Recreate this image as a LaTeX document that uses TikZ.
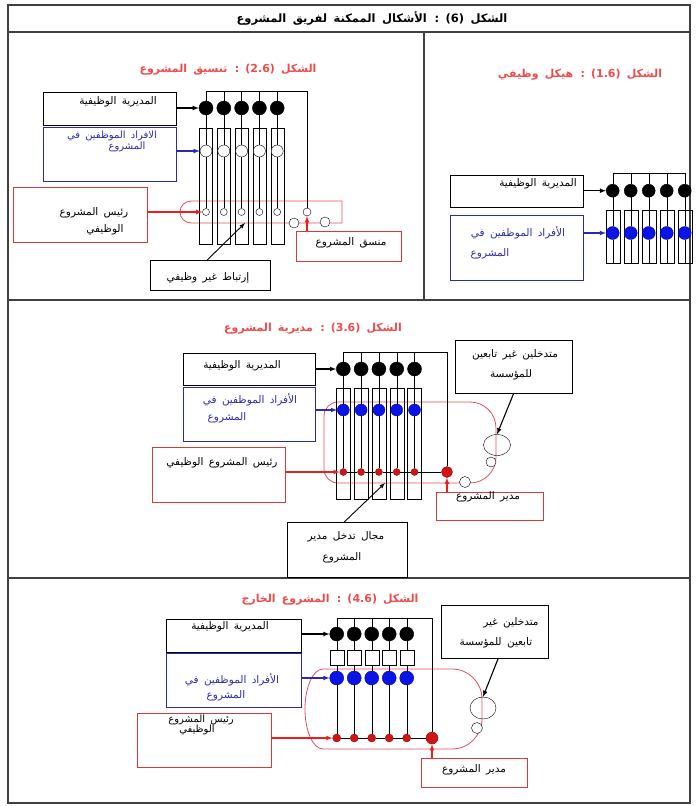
\documentclass[tikz,border=0pt]{standalone}
\usepackage{fontspec}
\usepackage{xcolor}
\usepackage{tikz}
\usetikzlibrary{shapes.geometric}
\TeXXeTstate=1
\newfontfamily\arabicfont[Script=Arabic, WordSpace=1.6]{DejaVu Sans}
\newcommand{\artxt}[1]{\beginR #1\endR}
\definecolor{ttlred}{HTML}{EE4B4B}
\definecolor{boxred}{HTML}{D83A3A}
\definecolor{loopred}{HTML}{E0505C}
\definecolor{arrred}{HTML}{EE1C1C}
\definecolor{boxblue}{HTML}{2B2BB0}
\definecolor{dotblue}{HTML}{0A14E6}
\definecolor{dotred}{HTML}{D41414}
\definecolor{frmgray}{HTML}{404040}

\begin{document}
\begin{tikzpicture}[x=1pt, y=-1pt,
		frm/.style={draw=frmgray, line width=1.2pt},
		ttl/.style={font=\arabicfont\bfseries\fontsize{11}{13}\selectfont, text=ttlred, inner sep=0pt},
		txt/.style={font=\arabicfont\fontsize{10.5}{12}\selectfont, inner sep=0pt},
		btxt/.style={txt, text=boxblue},
		blkbox/.style={draw=black, anchor=north west, inner sep=0pt},
		bluebox/.style={draw=boxblue, anchor=north west, inner sep=0pt},
		redbox/.style={draw=boxred, anchor=north west, inner sep=0pt},
		colbox/.style={draw, rectangle, minimum width=13, inner sep=0pt},
		sqbox/.style={draw, fill=white, rectangle, minimum width=14, minimum height=15, inner sep=0pt},
		kdot/.style={draw, circle, fill=black, inner sep=0pt, minimum size=14},
		wdot/.style={draw, circle, fill=white, inner sep=0pt},
		bdot/.style={draw=dotblue!60!black, circle, fill=dotblue, inner sep=0pt, minimum size=13},
		rdot/.style={draw=dotred!60!black, circle, fill=dotred, inner sep=0pt},
		outer/.style={draw, ellipse, inner sep=0pt},
		loopln/.style={draw=loopred, line width=0.8pt},
		arr/.style={-latex, line width=1.1pt},
		redarr/.style={arr, draw=arrred},
		bluearr/.style={arr, draw=boxblue}]
		\useasboundingbox (0,0) rectangle (696,806);
		
		% Frame
		\draw[frm] (8,5) rectangle (690,803);
		\draw[frm] (8,32) -- (690,32);
		\draw[frm] (8,300) -- (690,300);
		\draw[frm] (8,578) -- (690,578);
		\draw[frm] (424,32) -- (424,300);
		\node[txt, font=\arabicfont\bfseries\fontsize{11.5}{13}\selectfont] (title) at (372,18) {\artxt{الشكل (6) : الأشكال الممكنة لفريق المشروع}};
		
		% Panel (1.6)
		\node[ttl] (t1) at (580,75) {\artxt{الشكل (1.6) : هيكل وظيفي}};
		\node[blkbox, minimum width=133, minimum height=32] (p1dir) at (450,175) {};
		\node[bluebox, minimum width=133, minimum height=65] (p1ind) at (450,215) {};
		\node[txt] (p1dirtx) at (538,184) {\artxt{المديرية الوظيفية}};
		\node[btxt] (p1indtx1) at (518,233) {\artxt{الأفراد الموظفين في}};
		\node[btxt] (p1indtx2) at (490,254) {\artxt{المشروع}};
		\foreach \i in {1,...,5}{
			\pgfmathsetmacro{\cx}{612.7+18*(\i-1)}
			\coordinate (p1t\i) at (\cx,173);
			\node[colbox, minimum width=14, minimum height=53] (p1r\i) at (\cx,236.5) {};
			\node[kdot, minimum size=13] (p1k\i) at (\cx,190.7) {};
			\node[bdot] (p1b\i) at (\cx,233) {};
			\draw (p1t\i) -- (p1k\i) -- (p1b\i) -- (p1r\i.south);
		}
		\draw (p1t1) -- (p1t5);
		\draw[arr] (p1dir.east |- p1k1) -- (p1k1);
		\draw[bluearr] (p1ind.east |- p1b1) -- (p1b1);
		
		% Panel (2.6)
		\node[ttl] (t2) at (228,70) {\artxt{الشكل (2.6) : تنسيق المشروع}};
		\node[blkbox, minimum width=133, minimum height=33] (p2dir) at (43,92) {};
		\node[bluebox, minimum width=133, minimum height=54] (p2ind) at (43,127) {};
		\node[redbox, minimum width=134, minimum height=55] (p2lead) at (13,187) {};
		\node[redbox, minimum width=105, minimum height=30] (p2coord) at (296,231) {};
		\node[blkbox, minimum width=120, minimum height=30] (p2link) at (150,260) {};
		\node[txt] (p2dirtx) at (118,102) {\artxt{المديرية الوظيفية}};
		\node[btxt, font=\arabicfont\fontsize{10}{11}\selectfont] (p2indtx1) at (112,136) {\artxt{الافراد الموظفين في}};
		\node[btxt, font=\arabicfont\fontsize{10}{11}\selectfont] (p2indtx2) at (127,147) {\artxt{المشروع}};
		\node[txt] (p2leadtx1) at (94,213) {\artxt{رئيس المشروع}};
		\node[txt] (p2leadtx2) at (105,230) {\artxt{الوظيفي}};
		\node[txt] (p2coordtx) at (351,243) {\artxt{منسق المشروع}};
		\node[txt] (p2linktx) at (208,278) {\artxt{إرتباط غير وظيفي}};
		\draw[loopln] (342,201) -- (191,201) arc[start angle=270, end angle=90, radius=11] -- (342,223) -- cycle;
		\foreach \i in {1,...,5}{
			\pgfmathsetmacro{\cx}{206+17.8*(\i-1)}
			\coordinate (p2t\i) at (\cx,91);
			\node[colbox, minimum height=116] (p2r\i) at (\cx,186) {};
			\node[kdot] (p2k\i) at (\cx,108) {};
			\node[wdot, minimum size=12] (p2w\i) at (\cx,151) {};
			\node[wdot, minimum size=7] (p2s\i) at (\cx,212) {};
			\draw (p2t\i) -- (p2k\i) -- (p2w\i) -- (p2s\i);
		}
		\coordinate (p2t6) at (307,91);
		\node[wdot, minimum size=8] (p2c) at (307,212) {};
		\node[wdot, minimum size=10] (p2o1) at (294,223) {};
		\node[wdot, minimum size=10] (p2o2) at (325,222) {};
		\draw (p2t1) -- (p2t6) -- (p2c);
		\coordinate (p2ptr) at (245,223);
		\draw[arr] (p2dir.east |- p2k1) -- (p2k1);
		\draw[bluearr] (p2ind.east |- p2w1) -- (p2w1);
		\draw[redarr] (p2lead.east |- p2s1) -- (p2s1);
		\draw[redarr] (p2coord.north -| p2c) -- (p2c);
		\draw[arr, line width=0.9pt] ([xshift=-3pt]p2link.north) -- (p2ptr);
		
		% Panel (3.6)
		\node[ttl] (t3) at (313,329) {\artxt{الشكل (3.6) : مديرية المشروع}};
		\node[blkbox, minimum width=132, minimum height=32] (p3dir) at (183,353) {};
		\node[bluebox, minimum width=132, minimum height=54] (p3ind) at (183,387) {};
		\node[redbox, minimum width=133, minimum height=55] (p3lead) at (152,447) {};
		\node[redbox, minimum width=107, minimum height=28] (p3mgr) at (436,492) {};
		\node[blkbox, minimum width=117, minimum height=53] (p3out) at (455,340) {};
		\node[blkbox, minimum width=120, minimum height=55] (p3zone) at (287,522) {};
		\node[txt] (p3dirtx) at (242,366) {\artxt{المديرية الوظيفية}};
		\node[btxt] (p3indtx1) at (250,400) {\artxt{الأفراد الموظفين في}};
		\node[btxt] (p3indtx2) at (227,418) {\artxt{المشروع}};
		\node[txt] (p3leadtx) at (222,463) {\artxt{رئيس المشروع الوظيفي}};
		\node[txt] (p3mgrtx) at (488,497) {\artxt{مدير المشروع}};
		\node[txt] (p3outtx1) at (515,355) {\artxt{متدخلين غير تابعين}};
		\node[txt] (p3outtx2) at (511,375) {\artxt{للمؤسسة}};
		\node[txt] (p3zonetx1) at (346,537) {\artxt{مجال تدخل مدير}};
		\node[txt] (p3zonetx2) at (342,558) {\artxt{المشروع}};
		\draw[loopln] (338,402) -- (470,402) arc[start angle=-90, end angle=0, radius=26]
			-- (496,457) arc[start angle=0, end angle=90, radius=26]
			-- (338,483) arc[start angle=90, end angle=180, radius=14]
			-- (324,416) arc[start angle=180, end angle=270, radius=14];
		\foreach \i in {1,...,5}{
			\pgfmathsetmacro{\cx}{343.3+17.8*(\i-1)}
			\coordinate (p3t\i) at (\cx,352);
			\node[colbox, minimum width=14, minimum height=111] (p3r\i) at (\cx,443.5) {};
			\node[kdot] (p3k\i) at (\cx,369) {};
			\node[bdot, minimum size=12] (p3b\i) at (\cx,410) {};
			\node[rdot, minimum size=7] (p3s\i) at (\cx,472) {};
			\draw (p3t\i) -- (p3k\i) -- (p3b\i) -- (p3s\i);
		}
		\coordinate (p3t6) at (447,352);
		\node[rdot, minimum size=11] (p3m) at (447,472) {};
		\draw (p3t1) -- (p3t6) -- (p3m);
		\foreach \i/\j in {1/2,2/3,3/4,4/5}{\draw (p3s\i) -- (p3s\j);}
		\draw (p3s5) -- (p3m);
		\node[outer, minimum width=27, minimum height=21] (p3e) at (497,445) {};
		\node[wdot, minimum size=10] (p3o1) at (491,462) {};
		\node[wdot, minimum size=11] (p3o2) at (465,482) {};
		\coordinate (p3ptr) at (385,483);
		\draw[arr] (p3dir.east |- p3k1) -- (p3k1);
		\draw[bluearr] (p3ind.east |- p3b1) -- (p3b1);
		\draw[redarr] (p3lead.east |- p3s1) -- (p3s1);
		\draw[redarr] (p3mgr.north -| p3m) -- (p3m);
		\draw[arr] (p3out.south) -- (p3e.north);
		\draw[arr, line width=0.9pt] ([xshift=-3pt]p3zone.north) -- (p3ptr);
		
		% Panel (4.6)
		\node[ttl] (t4) at (330,600) {\artxt{الشكل (4.6) : المشروع الخارج}};
		\node[blkbox, minimum width=135, minimum height=33] (p4dir) at (166,619) {};
		\node[bluebox, minimum width=135, minimum height=54] (p4ind) at (166,653) {};
		\node[redbox, minimum width=134, minimum height=54] (p4lead) at (137,713) {};
		\node[redbox, minimum width=106, minimum height=29] (p4mgr) at (421,758) {};
		\node[blkbox, minimum width=107, minimum height=53] (p4out) at (441,605) {};
		\node[txt] (p4dirtx) at (230,627) {\artxt{المديرية الوظيفية}};
		\node[btxt] (p4indtx1) at (232,680) {\artxt{الأفراد الموظفين في}};
		\node[btxt] (p4indtx2) at (226,696) {\artxt{المشروع}};
		\node[txt, font=\arabicfont\fontsize{10}{11}\selectfont] (p4leadtx1) at (201,720) {\artxt{رئيس المشروع}};
		\node[txt, font=\arabicfont\fontsize{10}{11}\selectfont] (p4leadtx2) at (197,730) {\artxt{الوظيفي}};
		\node[txt] (p4mgrtx) at (474,770) {\artxt{مدير المشروع}};
		\node[txt] (p4outtx1) at (511,623) {\artxt{متدخلين غير}};
		\node[txt] (p4outtx2) at (496,643) {\artxt{تابعين للمؤسسة}};
		\draw[loopln] (323,669) -- (452,669) arc[start angle=-90, end angle=0, radius=30]
			-- (482,719) arc[start angle=0, end angle=90, radius=30]
			-- (323,749) arc[start angle=90, end angle=270, x radius=18, y radius=40];
		\foreach \i in {1,...,5}{
			\pgfmathsetmacro{\cx}{336.7+17.5*(\i-1)}
			\coordinate (p4t\i) at (\cx,618);
			\node[kdot] (p4k\i) at (\cx,634) {};
			\node[sqbox] (p4q\i) at (\cx,657.5) {};
			\node[bdot, minimum size=14] (p4b\i) at (\cx,678) {};
			\node[rdot, minimum size=8] (p4s\i) at (\cx,738) {};
			\draw (p4t\i) -- (p4k\i) -- (p4q\i) -- (p4b\i) -- (p4s\i);
		}
		\coordinate (p4t6) at (432,618);
		\node[rdot, minimum size=12] (p4m) at (432,738) {};
		\draw (p4t1) -- (p4t6) -- (p4m);
		\foreach \i/\j in {1/2,2/3,3/4,4/5}{\draw (p4s\i) -- (p4s\j);}
		\draw (p4s5) -- (p4m);
		\node[outer, minimum width=26, minimum height=22] (p4e) at (483,708) {};
		\node[wdot, minimum size=11] (p4o1) at (477,728) {};
		\draw[arr] (p4dir.east |- p4k1) -- (p4k1);
		\draw[bluearr] (p4ind.east |- p4b1) -- (p4b1);
		\draw[redarr] (p4lead.east |- p4s1) -- (p4s1);
		\draw[redarr] (p4mgr.north -| p4m) -- (p4m);
		\draw[arr] ([xshift=3.5pt]p4out.south) -- (p4e.north);
		
	\end{tikzpicture}
\end{document}
